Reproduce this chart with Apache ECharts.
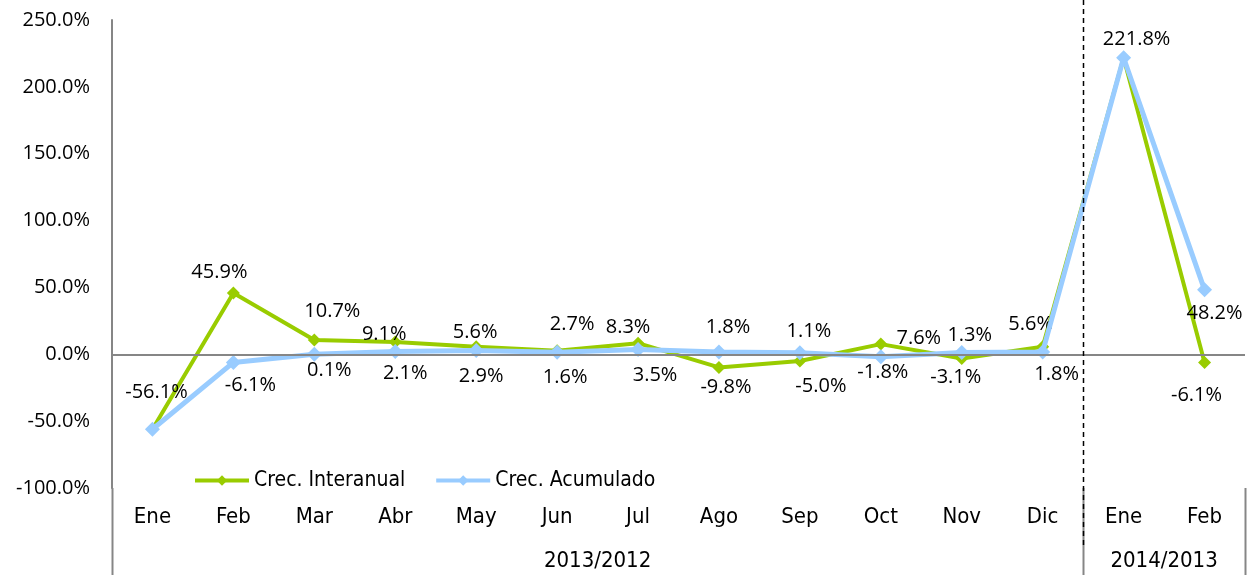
<!DOCTYPE html>
<html>
<head>
<meta charset="utf-8">
<script src="https://cdn.jsdelivr.net/npm/echarts@6/dist/echarts.min.js"></script>
<style>
html,body{margin:0;padding:0;background:#fff;}
#chart{width:1252px;height:575px;}
</style>
</head>
<body>
<div id="chart"></div>
<script>
const categories = ['Ene','Feb','Mar','Abr','May','Jun','Jul','Ago','Sep','Oct','Nov','Dic','Ene','Feb'];
const interanual = [-56.1, 45.9, 10.7, 9.1, 5.6, 2.7, 8.3, -9.8, -5.0, 7.6, -3.1, 5.6, 221.8, -6.1];
const acumulado  = [-56.1, -6.1, 0.1, 2.1, 2.9, 1.6, 3.5, 1.8, 1.1, -1.8, 1.3, 1.8, 221.8, 48.2];
const groupNames = ['2013/2012', '2014/2013'];
const groupStarts = [0, 12];
const groupEnds = [11, 13];
const yTicks = { min: -100, max: 250, interval: 50 };

// label placement (layout only, offsets from each point in px)
const greenLabelOffsets = [[4,-37],[-14,-21],[18,-29],[-11,-8],[-1,-15],[15,-26],[-10,-16],[7,20],[21,25],[38,-6],[-6,19],[-12,-23],[13,-18],[-8,33]];
const blueLabelOffsets  = [null,[17,23],[15,16],[10,22],[5,26],[8,25],[17,26],[9,-25],[9,-22],[2,16],[8,-17],[14,22],null,[10,23]];

const GREEN = '#99CC00';
const BLUE = '#99CCFF';
const LABEL_FONT = '"Open Sans", sans-serif';
const AXIS_FONT = '"DejaVu Sans Condensed", "Liberation Sans Narrow", sans-serif';

function fmt(v){ return v.toFixed(1) + '%'; }

function buildData(values, offsets){
  return values.map((v,i)=>{
    const off = offsets[i];
    return {
      value: v,
      label: off ? { show: true, position: 'inside', offset: off } : { show: false }
    };
  });
}

const chart = echarts.init(document.getElementById('chart'), null, {renderer:'canvas'});
const option = {
  animation: false,
  backgroundColor: '#ffffff',
  grid: { left: 112, right: 7, top: 20, bottom: 87, containLabel: false },
  legend: {
    left: 188, top: 465,
    itemWidth: 54, itemHeight: 13, itemGap: 29,
    lineStyle: { width: 4 },
    textStyle: { fontFamily: AXIS_FONT, fontSize: 21, color: '#000' },
    data: ['Crec. Interanual', 'Crec. Acumulado']
  },
  xAxis: {
    type: 'category',
    data: categories,
    boundaryGap: true,
    axisLine: { show: false },
    axisTick: { show: false },
    axisLabel: { interval: 0, margin: 18, fontFamily: AXIS_FONT, fontSize: 22, color: '#000' },
    splitLine: { show: false }
  },
  yAxis: {
    type: 'value',
    min: yTicks.min, max: yTicks.max, interval: yTicks.interval,
    axisLine: { show: true, lineStyle: { color: '#868686', width: 2 } },
    axisTick: { show: false },
    splitLine: { show: false },
    axisLabel: { margin: 22, fontFamily: LABEL_FONT, fontSize: 20, color: '#000', formatter: fmt }
  },
  series: [
    {
      name: 'Crec. Interanual',
      type: 'line',
      data: buildData(interanual, greenLabelOffsets),
      symbol: 'diamond', symbolSize: 13,
      lineStyle: { color: GREEN, width: 4 },
      itemStyle: { color: GREEN },
      label: { fontFamily: LABEL_FONT, fontSize: 20, color: '#000', formatter: p => fmt(p.value) },
      markLine: {
        silent: true, symbol: 'none',
        label: { show: false },
        lineStyle: { color: '#868686', width: 2, type: 'solid' },
        data: [{ yAxis: 0 }]
      },
      z: 2
    },
    {
      name: 'Crec. Acumulado',
      type: 'line',
      data: buildData(acumulado, blueLabelOffsets),
      symbol: 'diamond', symbolSize: 15,
      lineStyle: { color: BLUE, width: 5 },
      itemStyle: { color: BLUE },
      label: { fontFamily: LABEL_FONT, fontSize: 20, color: '#000', formatter: p => fmt(p.value) },
      z: 3
    }
  ]
};
chart.setOption(option);

// Decorations: group separators, dashed divider and group labels, placed through the axis scale
function px(idx, val){ return chart.convertToPixel({gridIndex:0}, [idx, val]); }
const gridRect = chart.getModel().getComponent('grid').coordinateSystem.getRect();
const bottomY = gridRect.y + gridRect.height;
const step = px(1,0)[0] - px(0,0)[0];
const graphics = [];
const boundaries = [gridRect.x];
groupEnds.forEach(e => boundaries.push(px(e,0)[0] + step/2));
boundaries.forEach((bx, i) => {
  graphics.push({ type:'line', silent:true, z: 10,
    shape:{ x1: Math.round(bx)+0.5, y1: bottomY, x2: Math.round(bx)+0.5, y2: 575 },
    style:{ stroke:'#868686', lineWidth: 2 } });
});
// dashed divider between the two periods
const divX = Math.round(px(groupEnds[0],0)[0] + step/2) + 0.5;
graphics.push({ type:'line', silent:true, z: 11,
  shape:{ x1: divX, y1: 0, x2: divX, y2: 545 },
  style:{ stroke:'#000', lineWidth: 1.5, lineDash:[5,4] } });
groupNames.forEach((name, i) => {
  const cx = (px(groupStarts[i],0)[0] + px(groupEnds[i],0)[0]) / 2;
  graphics.push({ type:'text', silent:true, z: 10,
    x: cx, y: 561,
    style:{ text: name, fill:'#000', font: '22px ' + AXIS_FONT, align:'center', verticalAlign:'middle' } });
});
chart.setOption({ graphic: graphics });
</script>
</body>
</html>
